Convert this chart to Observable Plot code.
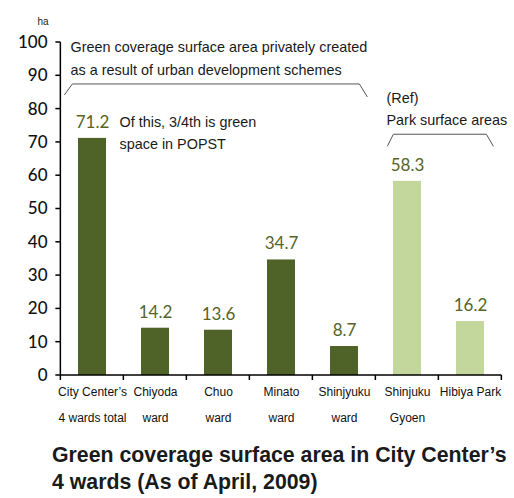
<!DOCTYPE html>
<html>
<head>
<meta charset="utf-8">
<script src="https://cdn.jsdelivr.net/npm/d3@7"></script>
<script src="https://cdn.jsdelivr.net/npm/@observablehq/plot@0.6"></script>
<style>
  html, body { margin: 0; padding: 0; background: #fff; }
  #title { font-family: "Liberation Sans", Arial, sans-serif; font-weight: bold; font-size: 21.3px; line-height: 27px; color: #1a1a1a; margin-left: 52px; margin-top: 12px; white-space: nowrap; }
</style>
</head>
<body>
<div id="chart"></div>
<div id="title">Green coverage surface area in City Center’s<br>4 wards (As of April, 2009)</div>
<script>
const categories = ["City Center’s\n4 wards total", "Chiyoda\nward", "Chuo\nward", "Minato\nward", "Shinjyuku\nward", "Shinjuku\nGyoen", "Hibiya Park\n "];
const values = [71.2, 14.2, 13.6, 34.7, 8.7, 58.3, 16.2];
const groups = ["ward", "ward", "ward", "ward", "ward", "park", "park"];
const yTicks = [0, 10, 20, 30, 40, 50, 60, 70, 80, 90, 100];
const notes = [
  {text: "Green coverage surface area privately created", cat: 0, y: 98.5, dx: -22},
  {text: "as a result of urban development schemes", cat: 0, y: 91.6, dx: -22},
  {text: "Of this, 3/4th is green", cat: 0, y: 76, dx: 27},
  {text: "space in POPST", cat: 0, y: 69.4, dx: 27},
  {text: "(Ref)", cat: 5, y: 83.2, dx: -21},
  {text: "Park surface areas", cat: 5, y: 76.6, dx: -21}
];

const data = categories.map((c, i) => ({cat: c, value: values[i], group: groups[i]}));
const dark = "#4f6228", light = "#c3d69b";
const annoFont = "'Liberation Sans', Arial, sans-serif";
const numFont = "Lato, 'Open Sans', sans-serif";

const noteMarks = notes.map(n => Plot.text([n], {x: () => categories[n.cat], y: "y", text: "text", dx: n.dx, textAnchor: "start", fontSize: 14.4, fontFamily: annoFont, fill: "#1a1a1a"}));

const plot = Plot.plot({
  width: 514,
  height: 430,
  marginTop: 42,
  marginBottom: 55,
  marginLeft: 58,
  marginRight: 11,
  x: {domain: categories, paddingInner: 0.56, paddingOuter: 0.28, axis: null},
  y: {domain: [0, 100], axis: null},
  color: {domain: ["ward", "park"], range: [dark, light]},
  marks: [
    Plot.barY(data, {x: "cat", y: "value", fill: "group"}),
    Plot.text(data, {x: "cat", y: "value", text: d => d.value.toFixed(1), dy: -16, fill: "#556429", fontSize: 17, fontFamily: numFont}),
    Plot.text(categories, {x: d => d, frameAnchor: "bottom", text: d => d, dy: 3, lineAnchor: "top", lineHeight: 2.1, fontSize: 12, fontFamily: annoFont, fill: "#111"}),
    Plot.text(yTicks, {y: d => d, frameAnchor: "left", text: d => String(d), textAnchor: "end", dx: -11, fontSize: 17, fontWeight: 500, fontFamily: numFont, fill: "#111"}),
    Plot.text(["ha"], {frameAnchor: "top-left", dx: -21, dy: -25, fontSize: 10, fontFamily: annoFont, fill: "#222"}),
    ...noteMarks
  ]
});
document.getElementById("chart").appendChild(plot);

// axes lines, ticks and brackets drawn from the plot's own scales
const xs = plot.scale("x"), ys = plot.scale("y");
const step = xs.step;
const x0 = xs.apply(categories[0]) - step * 0.28;
const xb = i => x0 + i * step;
const y = v => ys.apply(v);
const svg = d3.select(plot);
const g = svg.append("g").attr("fill", "none");
// y axis
g.append("line").attr("x1", xb(0)).attr("x2", xb(0)).attr("y1", y(0)).attr("y2", y(100)).attr("stroke", "#000").attr("stroke-width", 1.5);
yTicks.forEach(t => g.append("line").attr("x1", xb(0) - 5).attr("x2", xb(0)).attr("y1", y(t)).attr("y2", y(t)).attr("stroke", "#000").attr("stroke-width", 1.5));
// x axis
g.append("line").attr("x1", xb(0)).attr("x2", xb(7)).attr("y1", y(0)).attr("y2", y(0)).attr("stroke", "#000").attr("stroke-width", 1.5);
for (let i = 0; i <= 7; i++) g.append("line").attr("x1", xb(i)).attr("x2", xb(i)).attr("y1", y(0)).attr("y2", y(0) + 5).attr("stroke", "#000").attr("stroke-width", 1.5);
// brackets
const br = (pts) => g.append("path").attr("d", d3.line()(pts)).attr("stroke", "#555").attr("stroke-width", 1);
br([[xb(0) + 4, y(84.1)], [xb(0) + 12, y(87.4)], [xb(5) - 16, y(87.4)], [xb(5) - 8, y(83.5)]]);
br([[xb(5) + 12, y(68.7)], [xb(5) + 18, y(72.3)], [xb(7) - 15, y(72.3)], [xb(7) - 8, y(68.7)]]);
</script>
</body>
</html>
